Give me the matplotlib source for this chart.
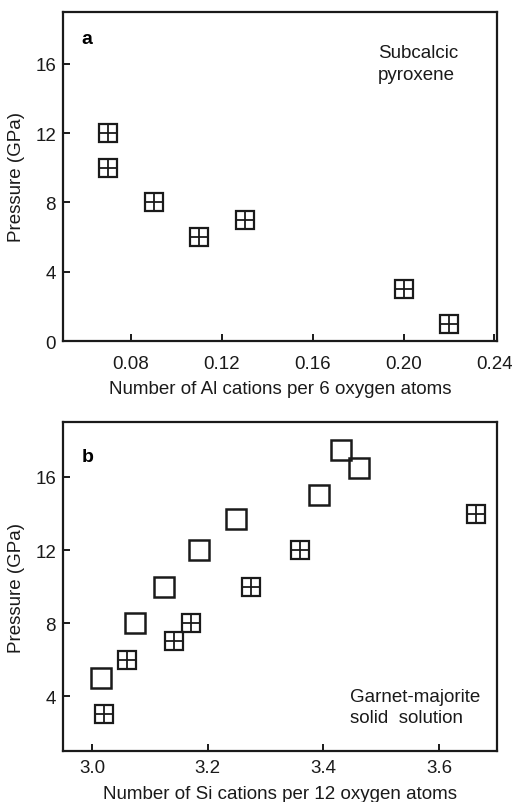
import numpy as np
import matplotlib.pyplot as plt

plt.rcParams['font.family'] = ['Liberation Sans', 'DejaVu Sans']

# panel a: subcalcic pyroxene
al_x = [0.07, 0.07, 0.09, 0.11, 0.13, 0.20, 0.22]
al_p = [12, 10, 8, 6, 7, 3, 1]

# panel b: garnet-majorite, open squares
si_open_x = [3.015, 3.074, 3.125, 3.185, 3.249, 3.393, 3.431, 3.461]
si_open_p = [5, 8, 10, 12, 13.7, 15, 17.5, 16.5]
# panel b: crossed squares
si_cross_x = [3.021, 3.061, 3.142, 3.171, 3.274, 3.360, 3.663]
si_cross_p = [3, 6, 7, 8, 10, 12, 14]

ms = 13.5
ink = '#1a1a1a'
fs = 13.5


def crossed(ax, x, y):
    ax.plot(x, y, 's', ms=ms, mfc='none', mec=ink, mew=1.6, ls='none', clip_on=False)
    ax.plot(x, y, '+', ms=ms, mec=ink, mew=1.3, ls='none', clip_on=False)


def style(ax, xpad):
    for s in ax.spines.values():
        s.set_linewidth(1.6)
        s.set_color(ink)
    ax.tick_params(direction='in', length=5, width=1.4, labelsize=fs,
                   colors=ink)
    ax.tick_params(axis='x', pad=xpad)
    ax.tick_params(axis='y', pad=5)


fig = plt.figure(figsize=(5.12, 8.03), dpi=100)

ax1 = fig.add_axes([0.123, 0.574, 0.848, 0.410])
crossed(ax1, al_x, al_p)
ax1.set_xlim(0.05, 0.2412)
ax1.set_ylim(0, 19)
ax1.set_xticks([0.08, 0.12, 0.16, 0.20, 0.24])
ax1.set_xticklabels(['0.08', '0.12', '0.16', '0.20', '0.24'])
ax1.set_yticks([0, 4, 8, 12, 16])
ax1.set_xlabel('Number of Al cations per 6 oxygen atoms', fontsize=fs, color=ink, labelpad=6)
ax1.set_ylabel('Pressure (GPa)', fontsize=fs, color=ink, labelpad=7)
ax1.text(0.0605, 17.45, 'a', fontsize=14, fontweight='bold', va='center', ha='center')
ax1.text(0.1888, 16.0, 'Subcalcic\npyroxene', fontsize=fs, va='center',
         linespacing=1.4, color=ink)
style(ax1, 10)

ax2 = fig.add_axes([0.123, 0.0635, 0.848, 0.4095])
ax2.plot(si_open_x, si_open_p, 's', ms=ms + 0.5, mfc='none', mec=ink, mew=1.8, ls='none')
crossed(ax2, si_cross_x, si_cross_p)
ax2.set_xlim(2.95, 3.70)
ax2.set_ylim(1, 19)
ax2.set_xticks([3.0, 3.2, 3.4, 3.6])
ax2.set_yticks([4, 8, 12, 16])
ax2.set_xlabel('Number of Si cations per 12 oxygen atoms', fontsize=fs, color=ink, labelpad=6)
ax2.set_ylabel('Pressure (GPa)', fontsize=fs, color=ink, labelpad=7)
ax2.text(2.993, 17.1, 'b', fontsize=14, fontweight='bold', va='center', ha='center')
ax2.text(3.446, 3.42, 'Garnet-majorite\nsolid  solution', fontsize=fs, va='center',
         linespacing=1.35, color=ink)
style(ax2, 6)

fig.savefig('out.png', dpi=100)
